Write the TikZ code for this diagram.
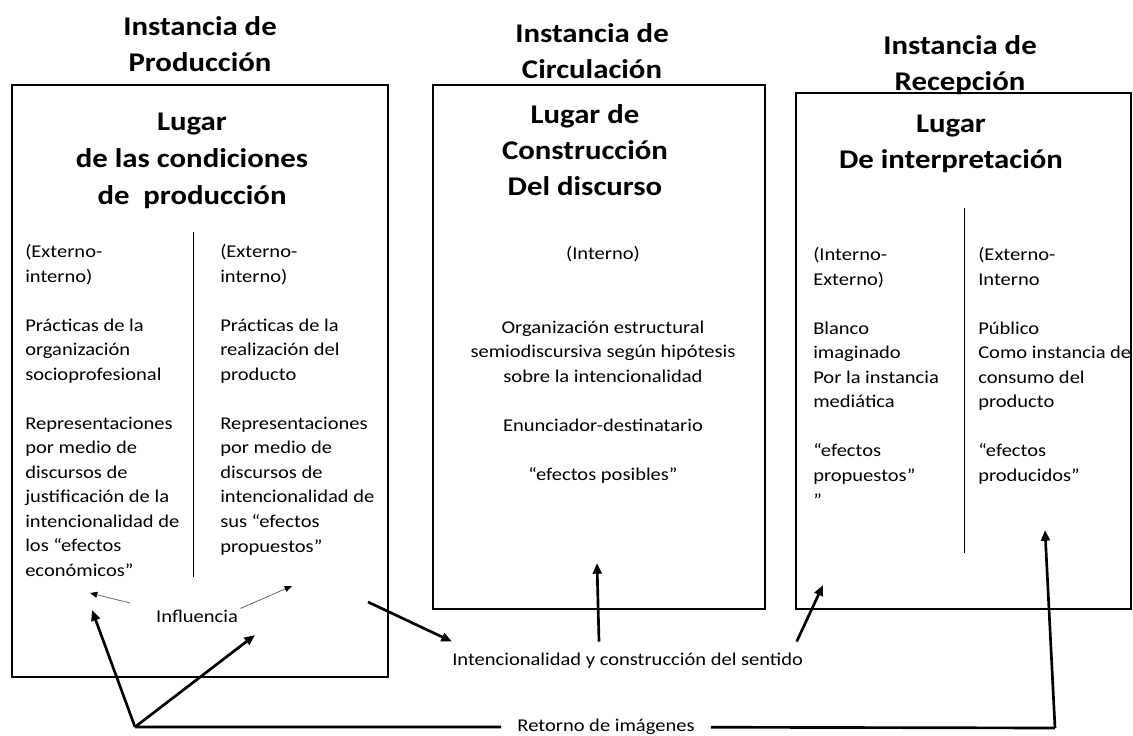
\documentclass[tikz,border=0pt]{standalone}
\usepackage{fontspec}
\setmainfont[FakeStretch=1.14]{Carlito}
\usetikzlibrary{arrows.meta}

\tikzset{
  caja/.style={draw, line width=1.1pt, inner sep=0pt},
  titulo/.style={font=\fontsize{20.25}{27}\selectfont\bfseries, align=center, inner sep=0pt, anchor=base},
  texto/.style={font=\fontsize{13.5}{18.4}\selectfont, align=left, inner sep=0pt, anchor=base west},
  flecha/.style={line width=2pt, -{Triangle[length=8pt,width=6.5pt]}},
  flechita/.style={draw=black!60, line width=0.6pt, -{Triangle[length=5.5pt,width=4.5pt,color=black]}}
}

\begin{document}
\begin{tikzpicture}[x=0.75pt,y=0.75pt,yscale=-1,xscale=1]
\fill[white] (0,0) rectangle (1133,736);
\useasboundingbox (0,0) rectangle (1133,736);

%Shape: Rectangle [produccion]
\node[caja, minimum width=282pt, minimum height=444pt] (prod) at (200,381) {};
%Shape: Rectangle [circulacion]
\node[caja, minimum width=249pt, minimum height=393pt] (circ) at (599,347) {};
%Shape: Rectangle [recepcion]
\node[caja, minimum width=251pt, minimum height=387pt] (recep) at (963.5,351) {};

%Straight Lines [dividers]
\draw[line width=0.7pt] (193,232) -- (193,577);
\draw[line width=0.7pt] (964,208) -- (964,553);

% Text Node (anchored at the baseline of the last line)
\node[titulo] (tprod) at (200,71) {Instancia de\\Producción};
% Text Node
\node[titulo] (tcirc) at (592,78) {Instancia de\\Circulación};
% Text Node
\node[titulo] (trecep) at (960,90) {Instancia de\\Recepción};

% Text Node
\node[titulo, font=\fontsize{20.25}{27.4}\selectfont\bfseries] (lprod) at (192,204) {Lugar\\de las condiciones\\de~ producción};
% Text Node
\node[titulo] (lcirc) at (585,195) {Lugar de\\Construcción\\Del discurso};
% Text Node
\node[titulo, font=\fontsize{20.25}{26.3}\selectfont\bfseries] (lrecep) at (951,168) {Lugar\\De interpretación};

% Text Node
\node[texto] (prodA) at (25,576.5) {(Externo-\\interno)\\~\\Prácticas de la\\organización\\socioprofesional\\~\\Representaciones\\por medio de\\discursos de\\justificación de la\\intencionalidad de\\los “efectos\\económicos”};
% Text Node
\node[texto] (prodB) at (220,552) {(Externo-\\interno)\\~\\Prácticas de la\\realización del\\producto\\~\\Representaciones\\por medio de\\discursos de\\intencionalidad de\\sus “efectos\\propuestos”};
% Text Node
\node[texto, align=center, anchor=base] (circA) at (603,480.5) {(Interno)\\~\\~\\Organización estructural\\semiodiscursiva según hipótesis\\sobre la intencionalidad\\~\\Enunciador-destinatario\\~\\“efectos posibles”};
% Text Node
\node[texto] (recepA) at (813,506) {(Interno-\\Externo)\\~\\Blanco\\imaginado\\Por la instancia\\mediática\\~\\“efectos\\propuestos”\\”};
% Text Node
\node[texto] (recepB) at (978,481.5) {(Externo-\\Interno\\~\\Público\\Como instancia de\\consumo del\\producto\\~\\“efectos\\producidos”};

% Text Node
\node[texto, anchor=center] (infl) at (197,616) {Influencia};
% Text Node
\node[texto, inner ysep=8pt] (intenc) at (452,665) {Intencionalidad y construcción del sentido};
% Text Node
\node[texto, anchor=center, inner xsep=12pt] (retorno) at (606,727) {Retorno de imágenes};

%Points
\coordinate (hub) at (135,727);
\coordinate (esquina) at (1055,728);
\coordinate (salida) at (368,602);
\coordinate (puntaA) at (90,593);
\coordinate (puntaB) at (292,586);
\coordinate (puntaC) at (92,610);
\coordinate (puntaD) at (255,635);
\coordinate (puntaE) at (597,563);
\coordinate (puntaF) at (823,585);
\coordinate (puntaG) at (1045,530);

%Arrows [influencia]
\draw[flechita, shorten <=20pt] (infl.north west) -- (puntaA);
\draw[flechita, shorten <=2pt] (infl.north east) -- (puntaB);

%Arrows [intencionalidad]
\draw[flecha] (salida) -- (intenc.north west);
\draw[flecha] (intenc.north -| circ.south) -- (puntaE);
\draw[flecha] ([xshift=-5]intenc.north east) -- (puntaF);

%Arrows [retorno]
\draw[line width=2pt] (hub) -- (retorno) -- (esquina);
\draw[flecha] (esquina) -- (puntaG);
\draw[flecha] (hub) -- (puntaC);
\draw[flecha] (hub) -- (puntaD);

\end{tikzpicture}
\end{document}
